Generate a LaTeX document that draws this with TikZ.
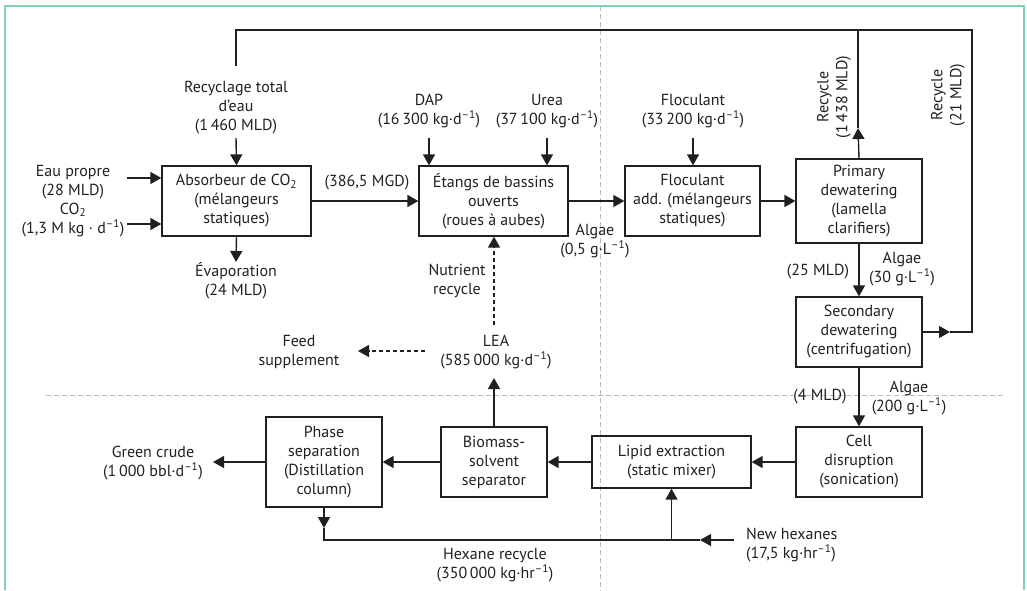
\documentclass[tikz,border=0pt]{standalone}
\usepackage{fontspec}
\setmainfont{PT Sans}
\usetikzlibrary{arrows.meta}
\definecolor{ink}{HTML}{231F20}
\definecolor{framegreen}{HTML}{7FD3AC}
\definecolor{guide}{HTML}{BDBDBD}
\newcommand{\sub}[1]{\textsubscript{#1}}
\newcommand{\inv}{\textsuperscript{–1}}
\begin{document}
\begin{tikzpicture}[x=1pt,y=-1pt,
  every node/.style={font=\fontsize{16}{19}\selectfont, text=ink},
  box/.style={draw=ink, line width=1.3pt, align=center, inner sep=0pt},
  lbl/.style={align=center, inner sep=0pt},
  line/.style={draw=ink, line width=1.4pt},
  arr/.style={line, -{Triangle[length=11pt,width=12pt]}},
  darr/.style={arr, dash pattern=on 4pt off 3pt},
  guideline/.style={draw=guide, line width=0.9pt, dash pattern=on 5pt off 3pt},
  frameline/.style={draw=framegreen, line width=2pt}]
\useasboundingbox (0,0) rectangle (1027,590);

% frame and guides
\draw[frameline] (4.5,590) -- (4.5,5.5) -- (1023.5,5.5) -- (1023.5,590);
\draw[guideline] (600.5,5.5) -- (600.5,590);
\draw[guideline] (46,395) -- (1003,395);

% boxes
\node[box, minimum width=149pt, minimum height=70pt] (abs) at (236.5,201) {Absorbeur de CO\sub{2}\\(mélangeurs\\statiques)};
\node[box, minimum width=149pt, minimum height=70pt] (etg) at (493.5,201) {Étangs de bassins\\ouverts\\(roues à aubes)};
\node[box, minimum width=135pt, minimum height=70pt] (floc) at (692.5,201) {Floculant\\add. (mélangeurs\\statiques)};
\node[box, minimum width=126pt, minimum height=84pt] (prim) at (859,201) {Primary\\dewatering\\(lamella\\clarifiers)};
\node[box, minimum width=126pt, minimum height=70pt] (sec) at (859,332) {Secondary\\dewatering\\(centrifugation)};
\node[box, minimum width=126pt, minimum height=70pt] (cell) at (859,462) {Cell\\disruption\\(sonication)};
\node[box, minimum width=159pt, minimum height=52pt] (lip) at (671.5,462) {Lipid extraction\\(static mixer)};
\node[box, minimum width=106pt, minimum height=70pt] (bio) at (494,462) {Biomass-\\solvent\\separator};
\node[box, minimum width=116pt, minimum height=90pt] (phase) at (324,462) {Phase\\separation\\(Distillation\\column)};

% labels
\node[lbl] (rec) at (236,108) {Recyclage total\\d’eau\\(1\,460 MLD)};
\node[lbl] (eau) at (73,201) {Eau propre\\(28 MLD)\\CO\sub{2}\\(1,3 M kg · d\inv)};
\node[lbl] (evap) at (236,281) {Évaporation\\(24 MLD)};
\node[lbl] (mgd) at (367,183) {(386,5 MGD)};
\node[lbl] (dap) at (429,111) {DAP\\(16\,300 kg·d\inv)};
\node[lbl] (urea) at (547,111) {Urea\\(37\,100 kg·d\inv)};
\node[lbl] (nutr) at (457,281) {Nutrient\\recycle};
\node[lbl] (alg1) at (595,241) {Algae\\(0,5 g·L\inv)};
\node[lbl] (flocin) at (693,111) {Floculant\\(33\,200 kg·d\inv)};
\node[lbl, rotate=90] (rec1438) at (834,97) {Recycle\\(1\,438 MLD)};
\node[lbl, rotate=90] (rec21) at (948,95) {Recycle\\(21 MLD)};
\node[lbl] (alg30) at (902,269) {Algae\\(30 g·L\inv)};
\node[lbl] (m25) at (818,272) {(25 MLD)};
\node[lbl] (m4) at (820,397) {(4 MLD)};
\node[lbl] (alg200) at (909,398) {Algae\\(200 g·L\inv)};
\node[lbl] (feed) at (299,352) {Feed\\supplement};
\node[lbl] (lea) at (496,352) {LEA\\(585\,000 kg·d\inv)};
\node[lbl] (green) at (153,463) {Green crude\\(1\,000 bbl·d\inv)};
\node[lbl] (hexrec) at (495,565) {Hexane recycle\\(350\,000 kg·hr\inv)};
\node[lbl, align=left, anchor=west] (newhex) at (746,545) {New hexanes\\(17,5 kg·hr\inv)};

% coordinates
\coordinate (recbot) at (236,138);
\coordinate (rectop) at (236,66);
\coordinate (tl) at (236,30);
\coordinate (tr) at (972,30);
\coordinate (tm) at (858,30);
\coordinate (r1438) at (858,128);
\coordinate (secout) at (950,332);
\coordinate (br) at (972,332);
\coordinate (eau1) at (127,178);
\coordinate (eau2) at (127,224);
\coordinate (evapend) at (236,262);
\coordinate (dapin) at (429,138);
\coordinate (ureain) at (547,138);
\coordinate (flocstart) at (693,138);
\coordinate (leatop) at (494,325);
\coordinate (lealeft) at (425,351);
\coordinate (feedend) at (358,351);
\coordinate (leabot) at (494,378);
\coordinate (greenend) at (213,462);
\coordinate (phdown) at (324,528);
\coordinate (hexl) at (324,540);
\coordinate (hexj) at (671.5,540);
\coordinate (newstart) at (734,540);
\coordinate (newtip) at (700,540);

% connectors
\draw[line] (rectop) -- (tl) -- (tr) -- (br) -- (secout);
\draw[arr] (sec.east |- secout) -- (secout);
\draw[line] (r1438) -- (tm);
\draw[arr] (prim.north) -- (r1438);
\draw[arr] (recbot) -- (abs.north);
\draw[arr] (eau1) -- (eau1 -| abs.west);
\draw[arr] (eau2) -- (eau2 -| abs.west);
\draw[arr] (abs.south) -- (evapend);
\draw[arr] (abs.east) -- (etg.west);
\draw[arr] (dapin) -- (dapin |- etg.north);
\draw[arr] (ureain) -- (ureain |- etg.north);
\draw[arr] (etg.east) -- (floc.west);
\draw[arr] (flocstart) -- (flocstart |- floc.north);
\draw[arr] (floc.east) -- (floc.east -| prim.west);
\draw[arr] (prim.south) -- (sec.north);
\draw[arr] (sec.south) -- (cell.north);
\draw[arr] (cell.west) -- (lip.east);
\draw[arr] (lip.west) -- (bio.east);
\draw[arr] (bio.west) -- (phase.east);
\draw[arr] (phase.west) -- (greenend);
\draw[arr] (bio.north) -- (leabot);
\draw[darr] (leatop) -- (leatop |- etg.south);
\draw[darr] (lealeft) -- (feedend);
\draw[arr] (phase.south) -- (phdown);
\draw[line] (phdown) -- (hexl) -- (hexj);
\draw[arr] (hexj) -- (lip.south);
\draw[arr] (newstart) -- (newtip);
\draw[line] (newtip) -- (hexj);
\end{tikzpicture}
\end{document}
